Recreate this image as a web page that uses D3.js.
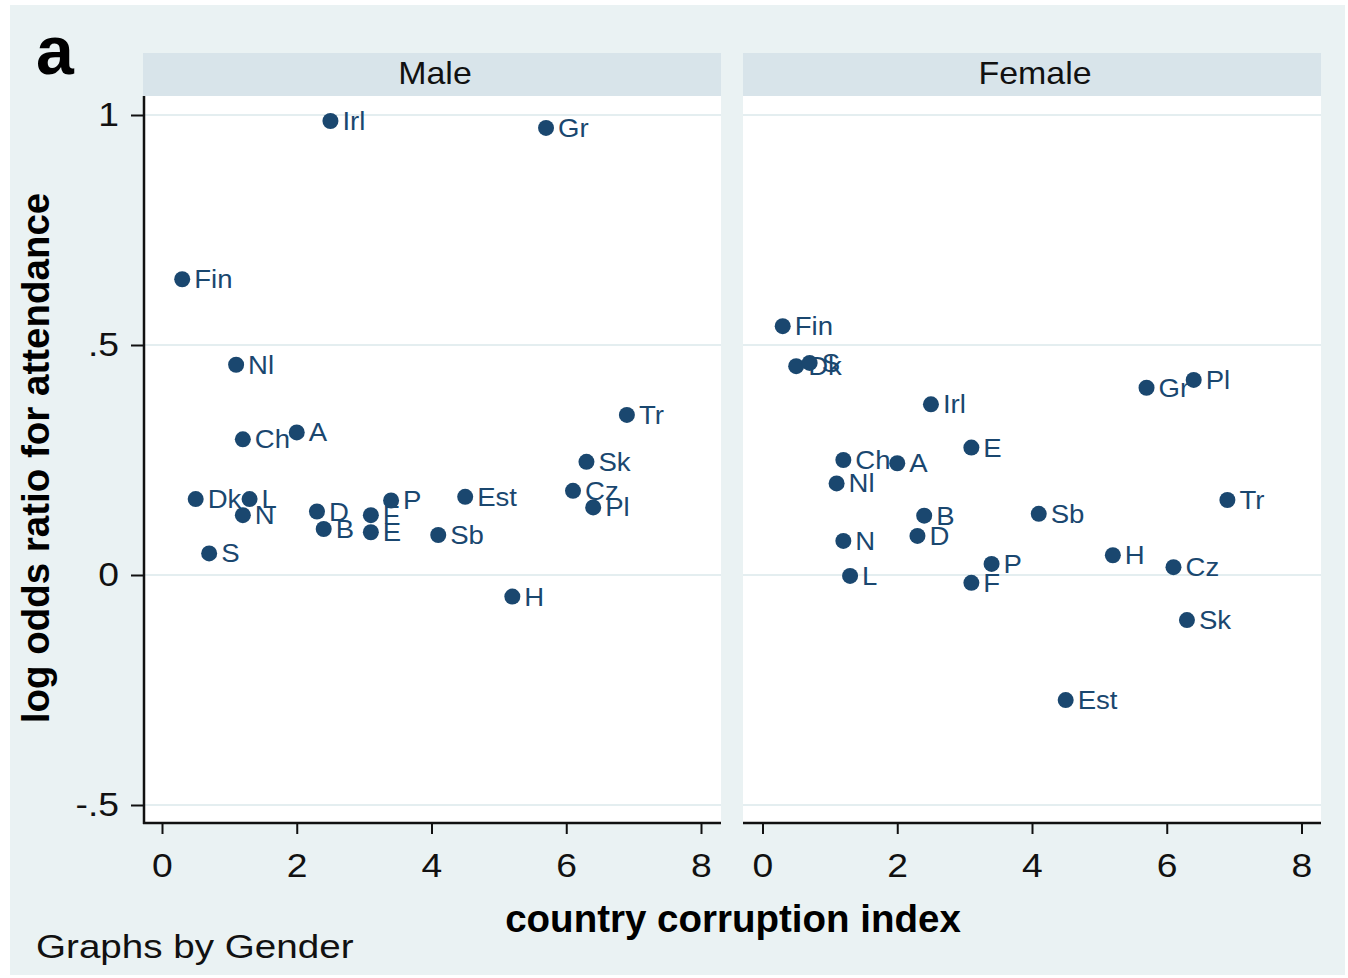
<!DOCTYPE html>
<html>
<head>
<meta charset="utf-8">
<script src="https://cdn.jsdelivr.net/npm/d3@7"></script>
<style>
  html, body { margin: 0; padding: 0; background: #ffffff; }
  svg { display: block; font-family: "Liberation Sans", Arial, Helvetica, sans-serif; }
</style>
</head>
<body>
<svg id="chart" width="1348" height="978"></svg>
<script>
// Log odds ratio for attendance vs. country corruption index, by gender
const maleLabels = ["Irl", "Gr", "Fin", "Nl", "Ch", "A", "Tr", "Sk", "Cz", "Pl", "Dk", "L", "N", "S", "D", "B", "F", "E", "P", "Est", "Sb", "H"];
const maleCorruption = [2.5, 5.7, 0.3, 1.1, 1.2, 2.0, 6.9, 6.3, 6.1, 6.4, 0.5, 1.3, 1.2, 0.7, 2.3, 2.4, 3.1, 3.1, 3.4, 4.5, 4.1, 5.2];
const maleLogOdds = [0.987, 0.972, 0.643, 0.457, 0.295, 0.310, 0.348, 0.246, 0.183, 0.147, 0.165, 0.165, 0.130, 0.047, 0.138, 0.100, 0.130, 0.093, 0.162, 0.170, 0.087, -0.047];

const femaleLabels = ["Fin", "Dk", "S", "Irl", "E", "Ch", "A", "Nl", "B", "D", "N", "L", "P", "F", "Gr", "Pl", "Tr", "Sb", "H", "Cz", "Sk", "Est"];
const femaleCorruption = [0.3, 0.5, 0.7, 2.5, 3.1, 1.2, 2.0, 1.1, 2.4, 2.3, 1.2, 1.3, 3.4, 3.1, 5.7, 6.4, 6.9, 4.1, 5.2, 6.1, 6.3, 4.5];
const femaleLogOdds = [0.541, 0.454, 0.461, 0.371, 0.277, 0.250, 0.243, 0.199, 0.129, 0.085, 0.074, -0.002, 0.024, -0.017, 0.407, 0.424, 0.163, 0.133, 0.043, 0.017, -0.098, -0.272];

const panelTitles = ["Male", "Female"];
const xTickValues = [0, 2, 4, 6, 8];
const xTickLabels = ["0", "2", "4", "6", "8"];
const yTickValues = [-0.5, 0, 0.5, 1];
const yTickLabels = ["-.5", "0", ".5", "1"];

const svg = d3.select("#chart");

const navy = "#1a476f";
const bg = "#eaf2f3";
const stripFill = "#d8e4ea";
const gridColor = "#e4eef0";
const wide = 1.13;      // horizontal stretch of the regular-weight text

// outer graph region
svg.append("rect").attr("x", 10).attr("y", 5).attr("width", 1335).attr("height", 970).attr("fill", bg);

const plotTop = 96, plotBottom = 823, stripTop = 53;
const panels = [
  { left: 143, right: 721, x0: 162, x8: 701, labels: maleLabels, xs: maleCorruption, ys: maleLogOdds, title: panelTitles[0], yAxis: true },
  { left: 743, right: 1321, x0: 762.5, x8: 1301.5, labels: femaleLabels, xs: femaleCorruption, ys: femaleLogOdds, title: panelTitles[1], yAxis: false }
];

const y = d3.scaleLinear().domain([-0.5, 1]).range([805, 115]);

panels.forEach(p => {
  const x = d3.scaleLinear().domain([0, 8]).range([p.x0, p.x8]);
  const g = svg.append("g");

  // plot area and strip
  g.append("rect").attr("x", p.left).attr("y", plotTop).attr("width", p.right - p.left).attr("height", plotBottom - plotTop).attr("fill", "#ffffff");
  g.append("rect").attr("x", p.left).attr("y", stripTop).attr("width", p.right - p.left).attr("height", plotTop - stripTop).attr("fill", stripFill);
  g.append("g").attr("transform", `translate(${(p.left + p.right) / 2 + 3},84)`)
    .append("text").attr("text-anchor", "middle").attr("font-size", 32).attr("fill", "#111")
    .attr("transform", "scale(1.06,1)").text(p.title);

  // horizontal grid lines
  g.selectAll("line.grid").data(yTickValues).join("line").attr("class", "grid")
    .attr("x1", p.left).attr("x2", p.right)
    .attr("y1", d => y(d)).attr("y2", d => y(d))
    .attr("stroke", gridColor).attr("stroke-width", 2);

  // x axis
  const xAxis = d3.axisBottom(x).tickValues(xTickValues)
    .tickFormat((d, i) => xTickLabels[i]).tickSize(11).tickPadding(20).tickSizeOuter(0);
  const xg = g.append("g").attr("transform", `translate(0,${plotBottom})`).call(xAxis);
  xg.select(".domain").remove();
  xg.selectAll(".tick line").attr("stroke", "#111").attr("stroke-width", 2);
  xg.selectAll(".tick text").attr("font-size", 33).attr("fill", "#111")
    .attr("font-family", "Liberation Sans, Arial, sans-serif")
    .attr("transform", `scale(${wide},1)`);
  g.append("line").attr("x1", p.left).attr("x2", p.right).attr("y1", plotBottom).attr("y2", plotBottom)
    .attr("stroke", "#111").attr("stroke-width", 2.5);

  // y axis on the left panel only
  if (p.yAxis) {
    const yAxis = d3.axisLeft(y).tickValues(yTickValues)
      .tickFormat((d, i) => yTickLabels[i]).tickSize(13).tickPadding(10).tickSizeOuter(0);
    const yg = g.append("g").attr("transform", `translate(${p.left + 1},0)`).call(yAxis);
    yg.select(".domain").remove();
    yg.selectAll(".tick line").attr("stroke", "#111").attr("stroke-width", 2);
    yg.selectAll(".tick text").attr("font-size", 33).attr("fill", "#111")
      .attr("font-family", "Liberation Sans, Arial, sans-serif")
      .attr("x", -25 / wide)
      .attr("transform", `scale(${wide},1)`);
    g.append("line").attr("x1", p.left + 1).attr("x2", p.left + 1).attr("y1", plotTop).attr("y2", plotBottom + 1)
      .attr("stroke", "#111").attr("stroke-width", 2.5);
  }

  // markers with labels at 3 o'clock
  const pts = p.labels.map((lab, i) => ({ lab, cx: x(p.xs[i]), cy: y(p.ys[i]) }));
  g.selectAll("circle.pt").data(pts).join("circle").attr("class", "pt")
    .attr("cx", d => d.cx).attr("cy", d => d.cy).attr("r", 8).attr("fill", navy);
  g.selectAll("g.lab").data(pts).join("g").attr("class", "lab")
    .attr("transform", d => `translate(${d.cx + 12},${d.cy + 9})`)
    .append("text").attr("font-size", 26).attr("fill", navy)
    .attr("transform", "scale(1.06,1)").text(d => d.lab);
});

// titles
svg.append("text").attr("x", 733).attr("y", 932).attr("text-anchor", "middle")
  .attr("font-size", 38.5).attr("font-weight", "bold").attr("fill", "#000").text("country corruption index");
svg.append("text").attr("transform", "translate(49,458) rotate(-90)").attr("text-anchor", "middle")
  .attr("font-size", 38.5).attr("font-weight", "bold").attr("fill", "#000").text("log odds ratio for attendance");
svg.append("g").attr("transform", "translate(36,958)")
  .append("text").attr("font-size", 33).attr("fill", "#111").attr("transform", "scale(1.17,1)").text("Graphs by Gender");
svg.append("text").attr("x", 36).attr("y", 74).attr("font-size", 68).attr("font-weight", "bold").attr("fill", "#000").text("a");
</script>
</body>
</html>
